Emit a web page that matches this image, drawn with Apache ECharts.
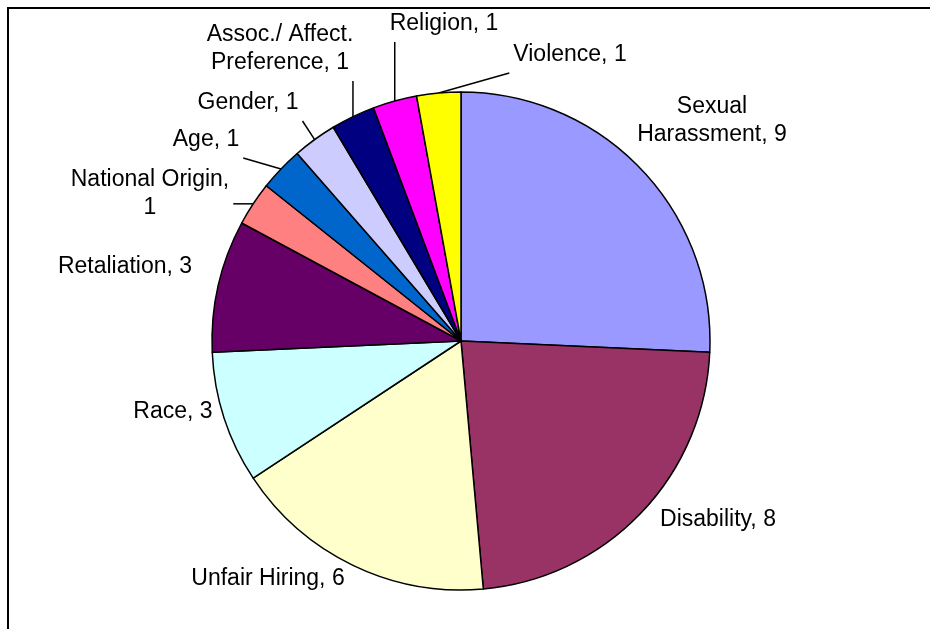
<!DOCTYPE html>
<html>
<head>
<meta charset="utf-8">
<script src="https://cdn.jsdelivr.net/npm/echarts@6/dist/echarts.min.js"></script>
<style>
  html, body { margin: 0; padding: 0; background: #fff; }
  #chart { width: 930px; height: 629px; }
</style>
</head>
<body>
<div id="chart"></div>
<script>
// complaint types, in the order they go round the pie (clockwise from 12 o'clock)
const categories = ['Sexual Harassment', 'Disability', 'Unfair Hiring', 'Race', 'Retaliation',
  'National Origin', 'Age', 'Gender', 'Assoc./ Affect. Preference', 'Religion', 'Violence'];
const counts = [9, 8, 6, 3, 3, 1, 1, 1, 1, 1, 1];
const colors = ['#9999FF', '#993366', '#FFFFCC', '#CCFFFF', '#660066',
  '#FF8080', '#0066CC', '#CCCCFF', '#000080', '#FF00FF', '#FFFF00'];

// how the label text wraps
const nameLines = ['Sexual\nHarassment', 'Disability', 'Unfair Hiring', 'Race', 'Retaliation',
  'National Origin', 'Age', 'Gender', 'Assoc./ Affect.\nPreference', 'Religion', 'Violence'];
const valueOnNewLine = [false, false, false, false, false, true, false, false, false, false, false];
const hasLeader = [false, false, false, false, false, true, true, true, true, true, true];

// label centres, as offsets from the pie centre
const CX = 461, CY = 341, R = 249;
const labelOffset = [
  [251, -220], [257, 179], [-193, 238], [-288, 71], [-336, -74],
  [-311, -147], [-255, -201], [-213, -238], [-181, -292], [-17, -317], [109, -286]
];

const chart = echarts.init(document.getElementById('chart'));

chart.setOption({
  backgroundColor: '#fff',
  animation: false,
  graphic: [{
    type: 'rect',
    shape: { x: 8, y: 8, width: 1000, height: 1000 },
    style: { fill: 'none', stroke: '#000', lineWidth: 2 },
    silent: true
  }],
  series: [{
    type: 'pie',
    center: [CX, CY],
    radius: R,
    startAngle: 90,
    clockwise: true,
    avoidLabelOverlap: false,
    emphasis: { disabled: true },
    itemStyle: { borderColor: '#000', borderWidth: 1.5 },
    label: {
      position: 'outside',
      color: '#000',
      fontFamily: 'Liberation Sans, Arial, sans-serif',
      fontSize: 23,
      lineHeight: 28,
      formatter: p => nameLines[p.dataIndex] + (valueOnNewLine[p.dataIndex] ? ',\n' : ', ') + p.value
    },
    labelLine: { length: 20, length2: 0, lineStyle: { color: '#000', width: 1.5 } },
    labelLayout: function (params) {
      const i = params.dataIndex;
      const x = CX + labelOffset[i][0];
      const y = CY + labelOffset[i][1];
      const out = { x: x, y: y, align: 'center', verticalAlign: 'middle' };
      const pts = params.labelLinePoints;
      if (hasLeader[i] && pts) {
        const w = params.labelRect.width, h = params.labelRect.height, gap = 4;
        const x0 = x - w / 2 - gap, x1 = x + w / 2 + gap;
        const y0 = y - h / 2 - gap, y1 = y + h / 2 + gap;
        const s = pts[0];
        const ex = Math.min(Math.max(s[0], x0), x1);
        const ey = Math.min(Math.max(s[1], y0), y1);
        out.labelLinePoints = [[s[0], s[1]], [ex, ey], [ex, ey]];
      }
      return out;
    },
    data: categories.map((name, i) => ({
      name: name,
      value: counts[i],
      itemStyle: { color: colors[i] },
      labelLine: { show: hasLeader[i] }
    }))
  }]
});
</script>
</body>
</html>
